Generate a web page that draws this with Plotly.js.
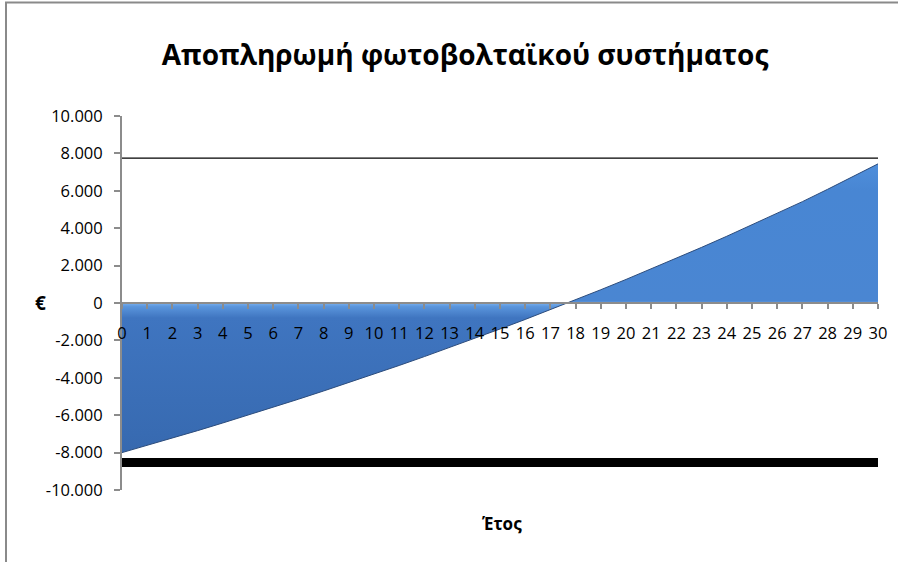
<!DOCTYPE html>
<html>
<head>
<meta charset="utf-8">
<script src="https://cdn.plot.ly/plotly-3.0.1.min.js"></script>
<style>html,body{margin:0;padding:0;background:#fff;}#chart{width:898px;height:562px;}</style>
</head>
<body>
<div id="chart"></div>
<script>
// Years (category axis)
const years = [0,1,2,3,4,5,6,7,8,9,10,11,12,13,14,15,16,17,18,19,20,21,22,23,24,25,26,27,28,29,30];
// Cumulative balance of the PV system (€)
const balance = [-8000,-7615,-7220,-6825,-6415,-6000,-5575,-5145,-4705,-4260,-3805,-3340,-2865,-2385,-1890,-1390,-880,-360,170,710,1260,1825,2395,2975,3570,4175,4790,5420,6080,6750,7440];
// Two horizontal reference lines
const refX = [0, 30];
const refTop = [7750, 7750];
const refBottom = [-8530, -8530];
// Axis tick labels
const yTickVals = [10000,8000,6000,4000,2000,0,-2000,-4000,-6000,-8000,-10000];
const yTickText = ['10.000','8.000','6.000','4.000','2.000','0','-2.000','-4.000','-6.000','-8.000','-10.000'];
const xTickText = years.map(String);

const titleText = 'Αποπληρωμή φωτοβολταϊκού συστήματος';
const xTitle = 'Έτος';
const yTitle = '€';

const FONT = 'Open Sans, Noto Sans, sans-serif';

const traces = [
  {
    x: years, y: balance, type: 'scatter', mode: 'lines',
    fill: 'tozeroy',
    fillgradient: {
      type: 'vertical', start: -10000, stop: 10000,
      colorscale: [[0,'#3464a8'],[0.15,'#386bb2'],[0.46,'#3f75c0'],[0.49,'#5a95dc'],[0.5,'#78b0ef'],[0.505,'#4a86d2'],[0.8,'#4886d3'],[0.9,'#5292de'],[1,'#62a2ec']]
    },
    line: {color: '#2c4c7c', width: 1},
    hoverinfo: 'skip'
  },
  {
    x: refX, y: refTop, type: 'scatter', mode: 'lines',
    line: {color: '#000000', width: 1.3}, hoverinfo: 'skip'
  },
  {
    x: refX, y: refBottom, type: 'scatter', mode: 'lines',
    line: {color: '#000000', width: 9}, hoverinfo: 'skip'
  }
];

const layout = {
  width: 898, height: 562,
  margin: {l: 122, r: 20, t: 116, b: 72},
  paper_bgcolor: '#ffffff', plot_bgcolor: 'rgba(0,0,0,0)',
  showlegend: false,
  font: {family: FONT, color: '#000000'},
  title: {
    text: '<b>' + titleText + '</b>',
    font: {family: FONT, size: 28, color: '#000000'},
    x: 465/898, xanchor: 'center', xref: 'container',
    y: 1 - 55/562, yanchor: 'middle', yref: 'container'
  },
  xaxis: {
    range: [0, 30], tickvals: years, ticktext: xTickText,
    anchor: 'free', position: 0.5,
    showline: true, linecolor: '#8c8c8c', linewidth: 2,
    ticks: 'outside', ticklen: 5, tickwidth: 2, tickcolor: '#8c8c8c',
    ticklabelstandoff: 10,
    tickfont: {family: FONT, size: 16.5, color: '#000000'},
    showgrid: false, zeroline: false, fixedrange: true
  },
  yaxis: {
    range: [-10000, 10000], tickvals: yTickVals, ticktext: yTickText,
    showline: true, linecolor: '#8c8c8c', linewidth: 2,
    ticks: 'outside', ticklen: 6, tickwidth: 2, tickcolor: '#8c8c8c',
    ticklabelstandoff: 8,
    tickfont: {family: FONT, size: 16.5, color: '#000000'},
    showgrid: false, zeroline: false, fixedrange: true
  },
  annotations: [
    {text: '<b>' + yTitle + '</b>', xref: 'paper', yref: 'y', x: (40-122)/756, y: 0,
     xanchor: 'center', yanchor: 'middle', showarrow: false,
     font: {family: FONT, size: 19, color: '#000000'}},
    {text: '<b>' + xTitle + '</b>', xref: 'paper', yref: 'paper', x: (502-122)/756, y: (490-523)/374,
     xanchor: 'center', yanchor: 'middle', showarrow: false,
     font: {family: FONT, size: 17, color: '#000000'}}
  ],
  shapes: [
    {type: 'rect', xref: 'paper', yref: 'paper',
     x0: (6-122)/756, x1: (980-122)/756, y0: (490-600)/374, y1: (490-2.5)/374,
     line: {color: '#8a8a8a', width: 2}, fillcolor: 'rgba(0,0,0,0)', layer: 'below'}
  ]
};

Plotly.newPlot('chart', traces, layout, {staticPlot: true, displayModeBar: false});
</script>
</body>
</html>
